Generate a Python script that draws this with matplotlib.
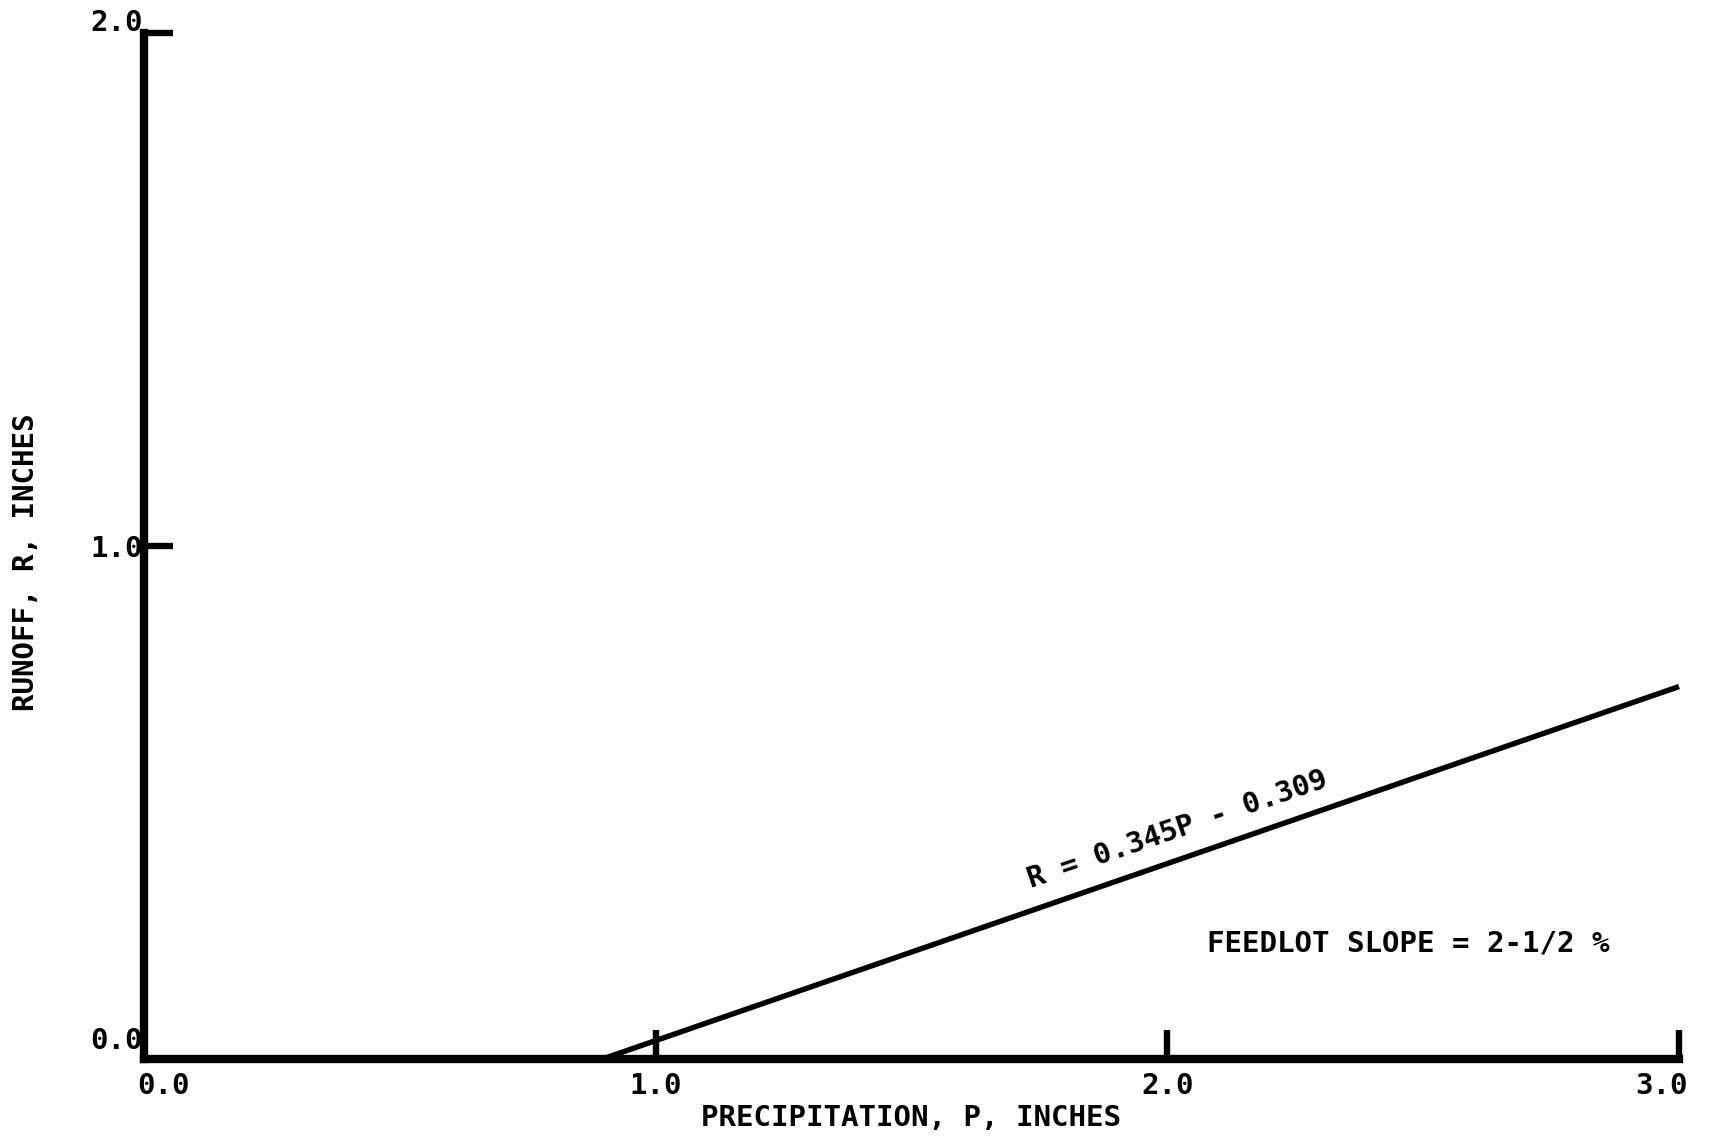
import matplotlib
matplotlib.use("Agg")
import matplotlib.pyplot as plt
from matplotlib.transforms import ScaledTranslation

# runoff line R = 0.345P - 0.309, zero below the intercept
precip = [0.0, 0.896, 3.0]
runoff = [0.0, 0.0, 0.726]

x_ticks = [0.0, 1.0, 2.0, 3.0]
x_labels = ["0.0", "1.0", "2.0", "3.0"]
y_ticks = [0.0, 1.0, 2.0]
y_labels = ["0.0", "1.0", "2.0"]

FONT = dict(family="DejaVu Sans Mono", weight="bold", size=21)

fig = plt.figure(figsize=(17.18, 11.44), dpi=100)
ax = fig.add_axes([0.0838, 0.0743, 0.8935, 0.8969])

ax.plot(precip, runoff, color="black", lw=3.9, solid_capstyle="butt", clip_on=False)

ax.set_xlim(0, 3)
ax.set_ylim(0, 2)
for s in ["top", "right"]:
    ax.spines[s].set_visible(False)
for s in ["left", "bottom"]:
    ax.spines[s].set_linewidth(6.0)
    ax.spines[s].set_capstyle("projecting")

ax.set_xticks(x_ticks)
ax.set_xticklabels(x_labels, fontdict=FONT)
ax.set_yticks(y_ticks)
ax.set_yticklabels(y_labels, fontdict=FONT)
ax.tick_params(axis="both", direction="in", length=21, width=4.6, color="black")
ax.tick_params(axis="x", pad=9)
ax.tick_params(axis="y", pad=1)

# nudge the end labels away from the corner
def shift(lbl, dx, dy):
    lbl.set_transform(lbl.get_transform() + ScaledTranslation(dx / 72, dy / 72, fig.dpi_scale_trans))

xl = ax.get_xticklabels()
yl = ax.get_yticklabels()
shift(xl[0], 14, 0)
shift(xl[3], -13, 0)
shift(yl[0], 0, 15)
shift(yl[2], 0, 9)

ax.set_xlabel("PRECIPITATION, P, INCHES", fontdict=FONT, labelpad=3)
ax.set_ylabel("RUNOFF, R, INCHES", fontdict=FONT, labelpad=10)
ax.yaxis.set_label_coords(-0.068, 0.484)

ax.text(2.02, 0.447, "R = 0.345P - 0.309", fontdict=FONT, rotation=18.8,
        rotation_mode="anchor", ha="center", va="center")
ax.text(2.47, 0.225, "FEEDLOT SLOPE = 2-1/2 %", fontdict=FONT, ha="center", va="center")

fig.savefig("out.png", dpi=100)
